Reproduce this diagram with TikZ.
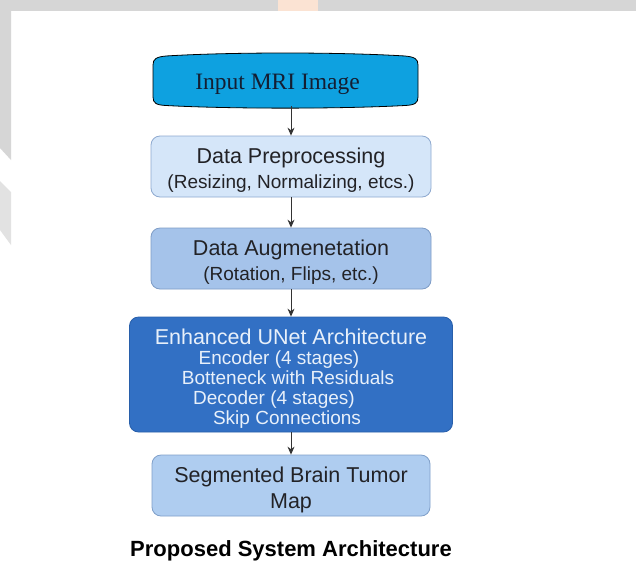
\documentclass[tikz,border=0pt]{standalone}
\usepackage{fontspec}
\setmainfont{Liberation Serif}
\setsansfont{Liberation Sans}
\usetikzlibrary{arrows.meta}

\definecolor{inblue}{RGB}{14,161,224}
\definecolor{prepfill}{RGB}{213,230,249}
\definecolor{prepline}{RGB}{142,169,207}
\definecolor{augfill}{RGB}{165,195,234}
\definecolor{augline}{RGB}{126,156,198}
\definecolor{unetfill}{RGB}{50,112,196}
\definecolor{unetline}{RGB}{40,95,170}
\definecolor{segfill}{RGB}{175,205,240}
\definecolor{segline}{RGB}{127,159,201}
\definecolor{txtdark}{RGB}{34,34,38}
\definecolor{txtlight}{RGB}{232,240,250}
\definecolor{wmgray}{RGB}{214,214,214}
\definecolor{wmlight}{RGB}{226,226,226}
\definecolor{wmpeach}{RGB}{251,227,211}

\newcommand{\headfont}{\fontsize{21.5}{25}\selectfont}
\newcommand{\subfont}{\fontsize{19}{25}\selectfont}
\newcommand{\padr}[1]{\rule{#1}{0pt}}

\begin{document}
\begin{tikzpicture}[x=1pt, y=-1pt, >={Stealth[length=8pt,width=7pt]},
    box/.style={rounded corners=9pt, line width=0.8pt, align=center, font=\sffamily\subfont,
      text=txtdark, inner sep=0pt, minimum width=280pt, minimum height=61pt},
    arr/.style={->, line width=1pt, draw=black!80}]
    \useasboundingbox (0,0) rectangle (636,560);

    % 背景和水印
    \fill[white] (0,0) rectangle (636,560);
    \fill[wmgray] (0,0) rectangle (636,10.5);
    \fill[wmpeach] (278,0) rectangle (318,11);
    \fill[wmgray] (0,10) -- (11,10) -- (11,160) -- (0,148) -- cycle;
    \fill[wmlight] (0,181) -- (11,192) -- (11,245) -- (0,230) -- cycle;

    % 输入 (上下边略微外凸)
    \draw[fill=inblue, line width=0.8pt] (153,65) .. controls (153,59) and (156,57) .. (166,56)
      .. controls (230,52) and (340,52) .. (405,56) .. controls (415,57) and (418,59) .. (418,65)
      -- (418,97) .. controls (418,103) and (415,105) .. (405,105.5)
      .. controls (340,109) and (230,109) .. (166,105.5) .. controls (156,105) and (153,103) .. (153,97) -- cycle;
    \node[minimum width=265pt, minimum height=53pt, inner sep=0pt,
      font=\fontsize{23.5}{25}\selectfont, text={rgb,255:red,20;green,30;blue,50}]
      (input) at (285.5,79.5) {\raisebox{-9.5pt}[0pt][0pt]{Input MRI Image}\padr{16pt}};

    % 预处理与增强
    \node[box, fill=prepfill, draw=prepline] (prep) at (291,166.5)
      {\rule{0pt}{22pt}{\headfont Data Preprocessing}\\(Resizing, Normalizing, etcs.)};
    \node[box, fill=augfill, draw=augline] (aug) at (291,258.5)
      {\rule{0pt}{22pt}{\headfont Data Augmenetation}\\(Rotation, Flips, etc.)};

    % UNet
    \node[box, fill=unetfill, draw=unetline, text=txtlight, minimum width=323pt, minimum height=115pt,
      font=\sffamily\fontsize{19}{20}\selectfont] (unet) at (291,374.5)
      {\rule{0pt}{23pt}{\headfont Enhanced UNet Architecture}\\Encoder (4 stages)\padr{24pt}\\
       Botteneck with Residuals\padr{6pt}\\Decoder (4 stages)\padr{34pt}\\Skip Connections\padr{8pt}};

    % 输出
    \node[box, fill=segfill, draw=segline, font=\sffamily\headfont, minimum width=278pt] (seg) at (291,485.5)
      {\rule{0pt}{24pt}Segmented Brain Tumor\\[1pt]Map};

    \node[anchor=base, inner sep=0pt, font=\sffamily\bfseries\fontsize{22}{26}\selectfont] (title) at (291,556)
      {Proposed System Architecture};

    % 箭头
    \draw[arr] (input.south -| prep.north) -- (prep.north);
    \draw[arr] (prep.south) -- (aug.north);
    \draw[arr] (aug.south) -- (unet.north);
    \draw[arr] (unet.south) -- (seg.north);
\end{tikzpicture}
\end{document}
